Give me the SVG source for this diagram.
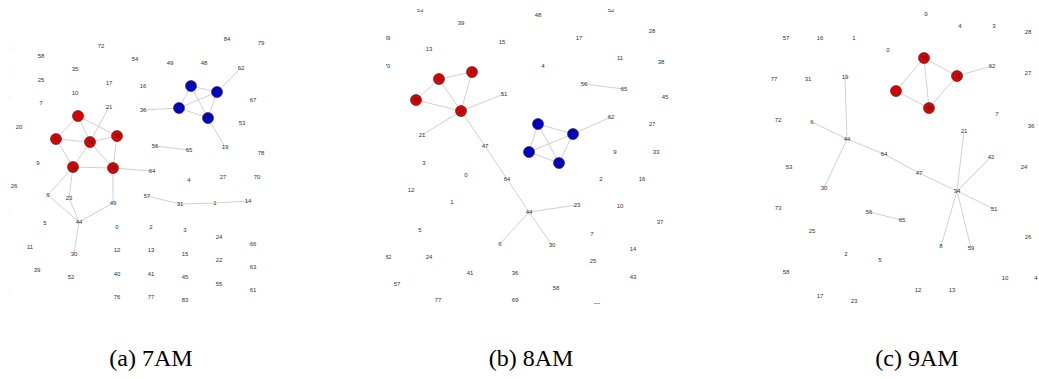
<svg xmlns="http://www.w3.org/2000/svg" width="1039" height="379" viewBox="0 0 1039 379">
<style>
text{font-family:"Liberation Sans",Arial,sans-serif;font-size:6px;fill:#333;text-anchor:middle;dominant-baseline:central}
.e{stroke:#c4c4c4;stroke-width:0.8;fill:none}
.r{fill:#e10000;stroke:#222;stroke-width:0.6}
.b{fill:#0000d0;stroke:#222;stroke-width:0.6}
.nl{font-size:5px;fill:#222}
.cap{font-family:"Liberation Serif","Times New Roman",serif;font-size:24px;fill:#000;dominant-baseline:alphabetic}
</style>
<defs>
<clipPath id="clipA"><rect x="9.5" y="0" width="300" height="330"/></clipPath>
<clipPath id="clipB"><rect x="386" y="9" width="300" height="295"/></clipPath>
</defs>
<rect width="1039" height="379" fill="#fff"/>

<!-- ===== Panel (a) ===== -->
<g id="panelA" clip-path="url(#clipA)">
<g id="a_edges">
<path class="e" d="M78 116L56 139M78 116L90 142M78 116L117 136M56 139L90 142M56 139L73 167M90 142L73 167M90 142L117 136M90 142L113 168M117 136L113 168M73 167L113 168M109 107L90 142M113 168L152 171M73 167L48 195M73 167L69 198M69 198L79 222M48 195L79 222M113 168L113 203M113 203L79 222M79 222L74 254M191 86L217 92M191 86L179 108M191 86L208 118M217 92L179 108M217 92L208 118M179 108L208 118M217 92L241 68M208 118L225 147M179 108L143 110M155 146L189 150M147 196L180 204M180 204L215 203M215 203L248 201"/>
</g>
<g id="a_n8"><circle class="r" cx="78" cy="116" r="5.5"/><text class="nl" x="78" y="116">8</text></g>
<g id="a_n42"><circle class="r" cx="56" cy="139" r="5.5"/><text class="nl" x="56" y="139">42</text></g>
<g id="a_n34"><circle class="r" cx="90" cy="142" r="5.5"/><text class="nl" x="90" y="142">34</text></g>
<g id="a_n59"><circle class="r" cx="117" cy="136" r="5.5"/><text class="nl" x="117" y="136">59</text></g>
<g id="a_n51"><circle class="r" cx="73" cy="167" r="5.5"/><text class="nl" x="73" y="167">51</text></g>
<g id="a_n47"><circle class="r" cx="113" cy="168" r="5.5"/><text class="nl" x="113" y="168">47</text></g>
<g id="a_n71"><circle class="b" cx="191" cy="86" r="5.5"/><text class="nl" x="191" y="86">71</text></g>
<g id="a_n32"><circle class="b" cx="217" cy="92" r="5.5"/><text class="nl" x="217" y="92">32</text></g>
<g id="a_n46"><circle class="b" cx="179" cy="108" r="5.5"/><text class="nl" x="179" y="108">46</text></g>
<g id="a_n18"><circle class="b" cx="208" cy="118" r="5.5"/><text class="nl" x="208" y="118">18</text></g>
<g id="a_n68"><text x="6" y="48">68</text></g>
<g id="a_n60"><text x="6" y="72">60</text></g>
<g id="a_n80"><text x="6" y="97">80</text></g>
<g id="a_n38"><text x="6" y="210">38</text></g>
<g id="a_n75"><text x="6" y="294">75</text></g>
<g id="a_n58"><text x="41" y="56">58</text></g>
<g id="a_n72"><text x="101" y="46">72</text></g>
<g id="a_n54"><text x="135" y="59">54</text></g>
<g id="a_n35"><text x="75" y="69">35</text></g>
<g id="a_n25"><text x="41" y="80">25</text></g>
<g id="a_n17"><text x="109" y="83">17</text></g>
<g id="a_n10"><text x="75" y="93">10</text></g>
<g id="a_n7"><text x="41" y="103">7</text></g>
<g id="a_n21"><text x="109" y="107">21</text></g>
<g id="a_n20"><text x="19" y="127">20</text></g>
<g id="a_n9"><text x="38" y="163">9</text></g>
<g id="a_n26"><text x="14" y="186">26</text></g>
<g id="a_n6"><text x="48" y="195">6</text></g>
<g id="a_n23"><text x="69" y="198">23</text></g>
<g id="a_n5"><text x="45" y="223">5</text></g>
<g id="a_n44"><text x="79" y="222">44</text></g>
<g id="a_n11"><text x="30" y="247">11</text></g>
<g id="a_n30"><text x="74" y="254">30</text></g>
<g id="a_n39"><text x="37" y="270">39</text></g>
<g id="a_n52"><text x="71" y="277">52</text></g>
<g id="a_n0"><text x="117" y="227">0</text></g>
<g id="a_n43"><text x="113" y="203">49</text></g>
<g id="a_n12"><text x="117" y="250">12</text></g>
<g id="a_n40"><text x="117" y="274">40</text></g>
<g id="a_n76"><text x="117" y="297">76</text></g>
<g id="a_n84"><text x="227" y="39">84</text></g>
<g id="a_n79"><text x="261" y="43">79</text></g>
<g id="a_n49"><text x="170" y="63">49</text></g>
<g id="a_n48"><text x="204" y="63">48</text></g>
<g id="a_n62"><text x="241" y="68">62</text></g>
<g id="a_n16"><text x="143" y="86">16</text></g>
<g id="a_n36"><text x="143" y="110">36</text></g>
<g id="a_n67"><text x="253" y="100">67</text></g>
<g id="a_n53"><text x="242" y="123">53</text></g>
<g id="a_n19"><text x="225" y="147">19</text></g>
<g id="a_n78"><text x="261" y="153">78</text></g>
<g id="a_n56"><text x="155" y="146">56</text></g>
<g id="a_n65"><text x="189" y="150">65</text></g>
<g id="a_n64"><text x="152" y="171">64</text></g>
<g id="a_n4"><text x="189" y="180">4</text></g>
<g id="a_n27"><text x="223" y="177">27</text></g>
<g id="a_n70"><text x="257" y="177">70</text></g>
<g id="a_n57"><text x="147" y="196">57</text></g>
<g id="a_n31"><text x="180" y="204">31</text></g>
<g id="a_n1"><text x="215" y="203">1</text></g>
<g id="a_n14"><text x="248" y="201">14</text></g>
<g id="a_n2"><text x="151" y="227">2</text></g>
<g id="a_n3"><text x="185" y="230">3</text></g>
<g id="a_n24"><text x="219" y="237">24</text></g>
<g id="a_n66"><text x="253" y="244">66</text></g>
<g id="a_n13"><text x="151" y="250">13</text></g>
<g id="a_n15"><text x="185" y="254">15</text></g>
<g id="a_n22"><text x="219" y="260">22</text></g>
<g id="a_n63"><text x="253" y="267">63</text></g>
<g id="a_n41"><text x="151" y="274">41</text></g>
<g id="a_n45"><text x="185" y="277">45</text></g>
<g id="a_n55"><text x="219" y="284">55</text></g>
<g id="a_n61"><text x="253" y="290">61</text></g>
<g id="a_n77"><text x="151" y="297">77</text></g>
<g id="a_n83"><text x="185" y="300">83</text></g>
</g>

<!-- ===== Panel (b) ===== -->
<g id="panelB" clip-path="url(#clipB)">
<g id="b_edges">
<path class="e" d="M439 79L472 72M439 79L416 100M439 79L461 111M472 72L461 111M416 100L461 111M461 111L504 94M461 111L422 135M461 111L485 146M485 146L507 179M507 179L529 212M529 212L500 244M529 212L577 205M529 212L552 245M584 84L624 89M538 124L573 134M538 124L529 152M538 124L559 163M573 134L529 152M573 134L559 163M529 152L559 163M573 134L611 117"/>
</g>
<g id="b_n8"><circle class="r" cx="439" cy="79" r="5.5"/><text class="nl" x="439" y="79">8</text></g>
<g id="b_n42"><circle class="r" cx="472" cy="72" r="5.5"/><text class="nl" x="472" y="72">42</text></g>
<g id="b_n59"><circle class="r" cx="416" cy="100" r="5.5"/><text class="nl" x="416" y="100">59</text></g>
<g id="b_n34"><circle class="r" cx="461" cy="111" r="5.5"/><text class="nl" x="461" y="111">34</text></g>
<g id="b_n71"><circle class="b" cx="538" cy="124" r="5.5"/><text class="nl" x="538" y="124">71</text></g>
<g id="b_n32"><circle class="b" cx="573" cy="134" r="5.5"/><text class="nl" x="573" y="134">32</text></g>
<g id="b_n18"><circle class="b" cx="529" cy="152" r="5.5"/><text class="nl" x="529" y="152">18</text></g>
<g id="b_n46"><circle class="b" cx="559" cy="163" r="5.5"/><text class="nl" x="559" y="163">46</text></g>
<g id="b_n53"><text x="420" y="10">53</text></g>
<g id="b_n39"><text x="461" y="23">39</text></g>
<g id="b_n89"><text x="387" y="38">89</text></g>
<g id="b_n13"><text x="429" y="49">13</text></g>
<g id="b_n15"><text x="502" y="42">15</text></g>
<g id="b_n70"><text x="387" y="66">70</text></g>
<g id="b_n51"><text x="504" y="94">51</text></g>
<g id="b_n21"><text x="422" y="135">21</text></g>
<g id="b_n47"><text x="485" y="146">47</text></g>
<g id="b_n48"><text x="538" y="15">48</text></g>
<g id="b_n52"><text x="611" y="10">52</text></g>
<g id="b_n28"><text x="652" y="31">28</text></g>
<g id="b_n17"><text x="579" y="38">17</text></g>
<g id="b_n11"><text x="620" y="58">11</text></g>
<g id="b_n38"><text x="661" y="62">38</text></g>
<g id="b_n4"><text x="543" y="66">4</text></g>
<g id="b_n56"><text x="584" y="84">56</text></g>
<g id="b_n65"><text x="624" y="89">65</text></g>
<g id="b_n45"><text x="665" y="97">45</text></g>
<g id="b_n62"><text x="611" y="117">62</text></g>
<g id="b_n27"><text x="652" y="124">27</text></g>
<g id="b_n9"><text x="615" y="152">9</text></g>
<g id="b_n33"><text x="656" y="152">33</text></g>
<g id="b_n3"><text x="424" y="163">3</text></g>
<g id="b_n0"><text x="466" y="175">0</text></g>
<g id="b_n64"><text x="507" y="179">64</text></g>
<g id="b_n12"><text x="411" y="190">12</text></g>
<g id="b_n1"><text x="452" y="202">1</text></g>
<g id="b_n44"><text x="529" y="212">44</text></g>
<g id="b_n5"><text x="420" y="230">5</text></g>
<g id="b_n6"><text x="500" y="244">6</text></g>
<g id="b_n82"><text x="388" y="257">82</text></g>
<g id="b_n24"><text x="429" y="257">24</text></g>
<g id="b_n41"><text x="470" y="273">41</text></g>
<g id="b_n36"><text x="515" y="273">36</text></g>
<g id="b_n57"><text x="397" y="284">57</text></g>
<g id="b_n77"><text x="438" y="300">77</text></g>
<g id="b_n69"><text x="515" y="300">69</text></g>
<g id="b_n2"><text x="601" y="179">2</text></g>
<g id="b_n16"><text x="642" y="179">16</text></g>
<g id="b_n23"><text x="577" y="205">23</text></g>
<g id="b_n10"><text x="620" y="206">10</text></g>
<g id="b_n37"><text x="660" y="222">37</text></g>
<g id="b_n7"><text x="592" y="234">7</text></g>
<g id="b_n30"><text x="552" y="245">30</text></g>
<g id="b_n14"><text x="633" y="249">14</text></g>
<g id="b_n25"><text x="593" y="261">25</text></g>
<g id="b_n43"><text x="633" y="277">43</text></g>
<g id="b_n58"><text x="556" y="288">58</text></g>
<g id="b_n20"><text x="597" y="305">20</text></g>
</g>

<!-- ===== Panel (c) ===== -->
<g id="panelC">
<g id="c_edges">
<path class="e" d="M896 91L924 58M896 91L929 108M924 58L957 76M924 58L929 108M957 76L929 108M957 76L992 66M845 77L847 139M812 122L847 139M847 139L884 154M884 154L919 173M919 173L957 191M847 139L824 188M957 191L964 131M957 191L991 157M957 191L994 209M957 191L941 246M957 191L971 248M869 212L902 220"/>
</g>
<g id="c_n71"><circle class="r" cx="896" cy="91" r="5.5"/><text class="nl" x="896" y="91">71</text></g>
<g id="c_n18"><circle class="r" cx="924" cy="58" r="5.5"/><text class="nl" x="924" y="58">18</text></g>
<g id="c_n32"><circle class="r" cx="957" cy="76" r="5.5"/><text class="nl" x="957" y="76">32</text></g>
<g id="c_n46"><circle class="r" cx="929" cy="108" r="5.5"/><text class="nl" x="929" y="108">46</text></g>
<g id="c_n9"><text x="926" y="14">9</text></g>
<g id="c_n4"><text x="960" y="26">4</text></g>
<g id="c_n3"><text x="994" y="26">3</text></g>
<g id="c_n28"><text x="1028" y="32">28</text></g>
<g id="c_n57"><text x="786" y="38">57</text></g>
<g id="c_n16"><text x="820" y="38">16</text></g>
<g id="c_n1"><text x="854" y="38">1</text></g>
<g id="c_n0"><text x="888" y="50">0</text></g>
<g id="c_n62"><text x="992" y="66">62</text></g>
<g id="c_n27"><text x="1028" y="73">27</text></g>
<g id="c_n77"><text x="774" y="79">77</text></g>
<g id="c_n31"><text x="808" y="79">31</text></g>
<g id="c_n19"><text x="845" y="77">19</text></g>
<g id="c_n7"><text x="997" y="114">7</text></g>
<g id="c_n72"><text x="778" y="120">72</text></g>
<g id="c_n6"><text x="812" y="122">6</text></g>
<g id="c_n36"><text x="1031" y="126">36</text></g>
<g id="c_n21"><text x="964" y="131">21</text></g>
<g id="c_n44"><text x="847" y="139">44</text></g>
<g id="c_n64"><text x="884" y="154">64</text></g>
<g id="c_n42"><text x="991" y="157">42</text></g>
<g id="c_n53"><text x="789" y="167">53</text></g>
<g id="c_n24"><text x="1024" y="167">24</text></g>
<g id="c_n47"><text x="919" y="173">47</text></g>
<g id="c_n30"><text x="824" y="188">30</text></g>
<g id="c_n34"><text x="957" y="191">34</text></g>
<g id="c_n73"><text x="778" y="208">73</text></g>
<g id="c_n51"><text x="994" y="209">51</text></g>
<g id="c_n56"><text x="869" y="212">56</text></g>
<g id="c_n65"><text x="902" y="220">65</text></g>
<g id="c_n25"><text x="812" y="231">25</text></g>
<g id="c_n26"><text x="1028" y="237">26</text></g>
<g id="c_n8"><text x="941" y="246">8</text></g>
<g id="c_n59"><text x="971" y="248">59</text></g>
<g id="c_n2"><text x="846" y="254">2</text></g>
<g id="c_n5"><text x="880" y="260">5</text></g>
<g id="c_n58"><text x="786" y="272">58</text></g>
<g id="c_n10"><text x="1005" y="278">10</text></g>
<g id="c_n4b"><text x="1036" y="278">4</text></g>
<g id="c_n12"><text x="918" y="290">12</text></g>
<g id="c_n13"><text x="952" y="290">13</text></g>
<g id="c_n17"><text x="820" y="296">17</text></g>
<g id="c_n23"><text x="854" y="301">23</text></g>
</g>

<!-- captions -->
<g id="captions">
<text class="cap" x="151" y="366">(a) 7AM</text>
<text class="cap" x="531" y="366">(b) 8AM</text>
<text class="cap" x="917" y="366">(c) 9AM</text>
</g>
</svg>
